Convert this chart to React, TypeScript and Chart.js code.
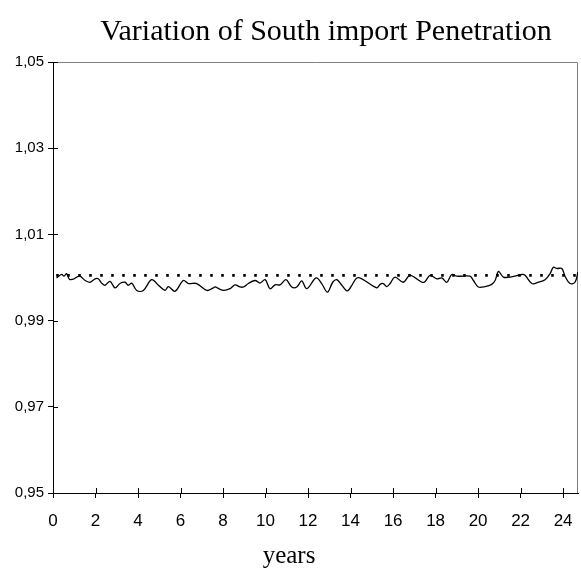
import React, { useEffect, useRef } from "react";
import { Chart, registerables } from "chart.js";
Chart.register(...registerables);

const titleText = "Variation of South import Penetration";
const xTitleText = "years";

const years = [
  0.17, 0.41, 0.52, 0.64, 0.77, 0.96, 1.12, 1.27, 1.51, 1.74, 1.98, 2.13, 2.29, 2.45, 2.68, 2.92,
  3.15, 3.39, 3.54, 3.70, 3.94, 4.25, 4.64, 4.96, 5.27, 5.43, 5.74, 6.13, 6.37, 6.76, 7.24, 7.54,
  7.62, 8.01, 8.33, 8.56, 8.80, 8.96, 9.19, 9.51, 9.74, 9.98, 10.21, 10.45, 10.68, 10.96, 11.23,
  11.47, 11.70, 11.94, 12.38, 12.64, 12.91, 13.16, 13.35, 13.59, 13.85, 14.06, 14.29, 14.53, 15.23,
  15.39, 15.54, 15.70, 15.86, 16.09, 16.48, 16.80, 17.35, 17.51, 17.74, 18.06, 18.29, 18.53, 18.76,
  19.00, 19.62, 19.78, 20.01, 20.33, 20.64, 20.80, 20.96, 21.19, 21.51, 22.06, 22.21, 22.53, 22.84,
  23.15, 23.39, 23.54, 23.70, 23.94, 24.09, 24.33, 24.56, 24.70,
];

const penetration = [
  0.9999, 1.0007, 1.0003, 1.0009, 0.9996, 0.9996, 1.0001, 1.0003, 0.9993, 0.9989, 0.9997, 0.9997,
  0.9987, 0.9982, 0.9991, 0.9976, 0.9986, 0.9989, 0.9982, 0.9987, 0.9970, 0.9970, 0.9995, 0.9982,
  0.9970, 0.9979, 0.9968, 0.9993, 0.9986, 0.9986, 0.9970, 0.9976, 0.9978, 0.9970, 0.9974, 0.9983,
  0.9978, 0.9978, 0.9986, 0.9993, 0.9987, 0.9995, 0.9974, 0.9983, 0.9983, 0.9995, 0.9978, 0.9978,
  0.9992, 0.9974, 0.9999, 0.9986, 0.9966, 0.9989, 0.9995, 0.9982, 0.9969, 0.9982, 0.9999, 0.9997,
  0.9976, 0.9984, 0.9986, 0.9979, 0.9986, 1.0001, 0.9989, 1.0005, 0.9989, 0.9991, 1.0005, 0.9997,
  0.9999, 0.9989, 1.0007, 1.0003, 1.0003, 0.9993, 0.9978, 0.9979, 0.9984, 0.9993, 1.0014, 1.0001,
  1.0001, 1.0007, 1.0005, 0.9986, 0.9989, 0.9995, 1.0009, 1.0024, 1.0021, 1.0021, 1.0003, 0.9986,
  0.9989, 1.0013,
];

const baselineYears = [0.15, 24.7];
const baselineValues = [1.0005, 1.0005];

const xTickValues = [0, 2, 4, 6, 8, 10, 12, 14, 16, 18, 20, 22, 24];
const yTickValues = [0.95, 0.97, 0.99, 1.01, 1.03, 1.05];
const xMin = 0;
const xMax = 24.7;
const yMin = 0.95;
const yMax = 1.05;

const framePlugin = {
  id: "frameAndInnerTicks",
  beforeDatasetsDraw(chart: any) {
    const { ctx, chartArea } = chart;
    ctx.save();
    ctx.strokeStyle = "#808080";
    ctx.lineWidth = 1;
    ctx.beginPath();
    ctx.moveTo(chartArea.left, chartArea.top + 0.5);
    ctx.lineTo(chartArea.right - 0.5, chartArea.top + 0.5);
    ctx.lineTo(chartArea.right - 0.5, chartArea.bottom);
    ctx.stroke();
    ctx.restore();
  },
  afterDatasetsDraw(chart: any) {
    const { ctx, chartArea, scales } = chart;
    ctx.save();
    ctx.strokeStyle = "#000";
    ctx.lineWidth = 1;
    ctx.beginPath();
    for (const v of xTickValues) {
      const px = Math.round(scales.x.getPixelForValue(v)) + 0.5;
      ctx.moveTo(px, chartArea.bottom);
      ctx.lineTo(px, chartArea.bottom - 5);
    }
    for (const v of yTickValues) {
      const py = Math.round(scales.y.getPixelForValue(v)) + 0.5;
      ctx.moveTo(chartArea.left, py);
      ctx.lineTo(chartArea.left + 5, py);
    }
    ctx.stroke();
    ctx.restore();
  },
};

export default function App() {
  const ref = useRef<HTMLCanvasElement | null>(null);
  useEffect(() => {
    if (!ref.current) return;
    const chart = new Chart(ref.current, {
      type: "line",
      data: {
        datasets: [
          {
            label: "baseline",
            data: baselineYears.map((x, i) => ({ x, y: baselineValues[i] })),
            borderColor: "#000",
            borderWidth: 2.6,
            borderDash: [2.6, 8.4],
            pointRadius: 0,
            fill: false,
          },
          {
            label: "South import penetration",
            data: years.map((x, i) => ({ x, y: penetration[i] })),
            borderColor: "#000",
            borderWidth: 1.3,
            pointRadius: 0,
            tension: 0.35,
            fill: false,
          },
        ],
      },
      options: {
        animation: false,
        responsive: true,
        maintainAspectRatio: false,
        layout: { padding: { left: 0, right: 3, top: 62, bottom: 0 } },
        plugins: {
          legend: { display: false },
          tooltip: { enabled: false },
          title: { display: false },
          subtitle: {
            display: true,
            position: "bottom",
            text: xTitleText,
            color: "#000",
            font: { family: "'Liberation Serif', 'Times New Roman', serif", size: 25, weight: "normal" },
            padding: { top: 8, bottom: 0 },
          },
        },
        scales: {
          x: {
            type: "linear",
            min: xMin,
            max: xMax,
            border: { color: "#000", width: 1 },
            grid: { drawOnChartArea: false, drawTicks: true, tickLength: 5, color: "#000" },
            ticks: {
              color: "#000",
              padding: 13,
              font: { family: "'Liberation Sans', Arial, sans-serif", size: 17 },
              callback: (v: any) => String(v),
            },
            afterBuildTicks: (s: any) => {
              s.ticks = xTickValues.map((value) => ({ value }));
            },
            afterFit: (s: any) => {
              s.height = 40;
              s.paddingLeft = 0;
              s.paddingRight = 0;
            },
          },
          y: {
            type: "linear",
            min: yMin,
            max: yMax,
            border: { color: "#000", width: 1 },
            grid: { drawOnChartArea: false, drawTicks: true, tickLength: 5, color: "#000" },
            ticks: {
              color: "#000",
              padding: 4,
              font: { family: "'Liberation Sans', Arial, sans-serif", size: 15 },
              callback: (v: any) => Number(v).toFixed(2).replace(".", ","),
            },
            afterBuildTicks: (s: any) => {
              s.ticks = yTickValues.map((value) => ({ value }));
            },
            afterFit: (s: any) => {
              s.width = 53;
              s.paddingTop = 0;
              s.paddingBottom = 0;
            },
          },
        },
      },
      plugins: [framePlugin],
    });
    return () => chart.destroy();
  }, []);
  return (
    <div style={{ position: "fixed", left: 0, top: 0, width: 581, height: 571, background: "#fff" }}>
      <canvas ref={ref} />
      <div
        style={{
          position: "absolute",
          left: 71,
          top: 12,
          width: 510,
          textAlign: "center",
          fontFamily: "'Liberation Serif', 'Times New Roman', serif",
          fontSize: 30,
          lineHeight: "36px",
          color: "#000",
          whiteSpace: "nowrap",
          pointerEvents: "none",
        }}
      >
        {titleText}
      </div>
    </div>
  );
}
